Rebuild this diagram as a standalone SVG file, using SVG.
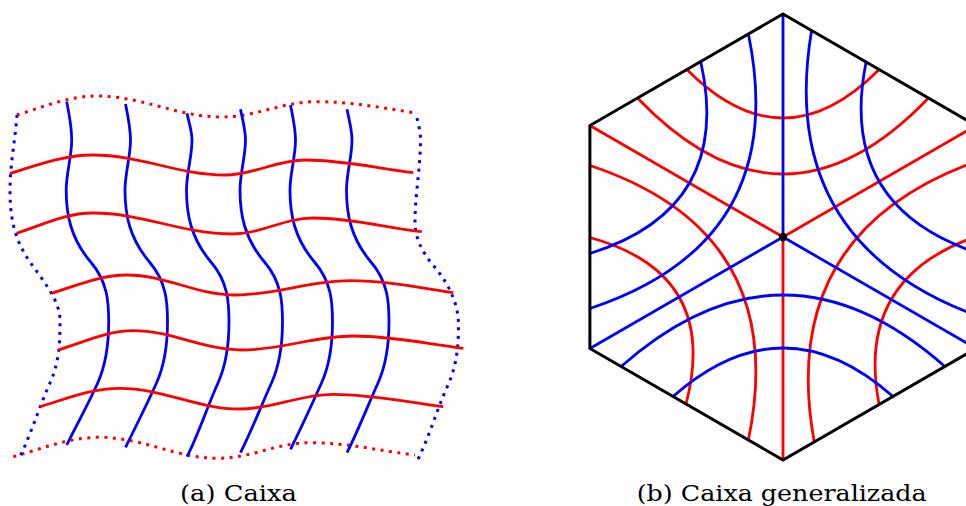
<svg xmlns="http://www.w3.org/2000/svg" width="966" height="506" viewBox="0 0 966 506">
<style>
  .r { fill: none; stroke: #ff0000; stroke-width: 2.8; }
  .b { fill: none; stroke: #0000ff; stroke-width: 2.8; }
  .dot { stroke-width: 3; stroke-dasharray: 3 5.5; }
  .k { fill: none; stroke: #000000; stroke-width: 3; stroke-linejoin: miter; }
  .cap { font-family: "DejaVu Serif", "Liberation Serif", serif; font-size: 23px; fill: #000000; text-anchor: middle; }
</style>

<g id="fig-a">
  <g id="a-boundary">
    <path id="a-top" class="r dot" d="M16.7,115 C43.5,107 68.1,96 97,96 C142,96 177,117 222,117 C256,117 282,101.7 316,101.7 C352.7,101.7 384,108.2 418,113.3"/>
    <path id="a-bottom" class="r dot" d="M13.3,456.7 C42.3,448.6 68.8,437.3 100,437.3 C142.5,437.3 175.5,458.3 218,458.3 C251,458.3 277,442.7 310,442.7 C348,442.7 380,451 415,455"/>
    <path id="a-left" class="b dot" d="M17,115 C15.2,140 10,165 10,190 C10,215 13.2,238 30,262 C43.5,281.3 60,300.7 60,320 C60,341 59.5,362 50,383 C38.4,408.7 31.2,434.3 18.3,460"/>
    <path id="a-right" class="b dot" d="M417,118 C418.8,125.3 420.5,132.7 420.5,140 C420.5,167.3 415,194.7 415,222 C415,236.3 420.8,250.7 433,265 C450,285 458.5,305 458.5,325 C458.5,345 457,365 448,385 C436.4,410.7 429.5,436.3 416.7,462"/>
  </g>
  <g id="a-blue">
    <path class="b" d="M66.7,101.7 C69.3,114.5 71.7,127.2 71.7,140 C71.7,156.7 66.2,173.3 66.2,190 C66.2,214 70.3,238 90.7,262 C107.7,282 108.7,302 108.7,322 C108.7,342.3 106.8,362.7 97.7,383 C88.4,403.7 77,424.3 66.7,445"/>
    <path class="b" d="M125.5,104 C127.9,116 130.5,128 130.5,140 C130.5,156.7 125,173.3 125,190 C125,214 129.1,238 149.5,262 C166.5,282 167.5,302 167.5,322 C167.5,342.3 165.6,362.7 156.5,383 C146.9,404.4 136.2,425.9 125.5,447.3"/>
    <path class="b" d="M187,113.3 C188.8,122.2 192,131.1 192,140 C192,156.7 186.5,173.3 186.5,190 C186.5,214 190.6,238 211,262 C228,282 229,302 229,322 C229,342.3 227.1,362.7 218,383 C206.9,407.6 199.3,432.1 187,456.7"/>
    <path class="b" d="M240.5,109.3 C242.5,119.5 245.5,129.8 245.5,140 C245.5,156.7 240,173.3 240,190 C240,214 244.1,238 264.5,262 C281.5,282 282.5,302 282.5,322 C282.5,342.3 280.6,362.7 271.5,383 C261,406.2 252.1,429.5 240.5,452.7"/>
    <path class="b" d="M290.5,105 C292.8,116.7 295.5,128.3 295.5,140 C295.5,156.7 290,173.3 290,190 C290,214 294.1,238 314.5,262 C331.5,282 332.5,302 332.5,322 C332.5,342.3 330.6,362.7 321.5,383 C311.6,405.1 301.5,427.2 290.5,449.3"/>
    <path class="b" d="M347,109.3 C349,119.5 352,129.8 352,140 C352,156.7 346.5,173.3 346.5,190 C346.5,214 350.6,238 371,262 C388,282 389,302 389,322 C389,342.3 387.1,362.7 378,383 C367.5,406.2 358.6,429.5 347,452.7"/>
  </g>
  <g id="a-red">
    <path class="r" d="M10,173.3 C37.7,165 63,155 93,155 C140.5,155 177.5,175 225,175 C254,175 276,160 305,160 C344,160 377.3,168.4 413.3,172.7"/>
    <path class="r" d="M16.7,233.3 C42.1,224.9 65.5,213 93,213 C143,213 182,234 232,234 C261,234 284,218 313,218 C352,218 385.7,227.7 421.7,231.7"/>
    <path class="r" d="M51.7,293.3 C76.7,285.5 100,275 127,275 C166,275 196,295 235,295 C276,295 309,280.7 350,280.7 C387,280.7 419.3,287.6 453.3,292.7"/>
    <path class="r" d="M58.3,350 C83.3,342.5 106.3,330.7 133.3,330.7 C172.3,330.7 203,350 242,350 C282,350 313.3,336 353.3,336 C393,336 426.3,343.8 463.3,348.3"/>
    <path class="r" d="M40,406.7 C66.7,398.7 91.2,388.3 120,388.3 C163,388.3 197,409 240,409 C273.5,409 299.5,394.3 333,394.3 C372.7,394.3 406.3,402.2 443.3,406.7"/>
  </g>
</g>

<g id="fig-b">
  <g id="b-red">
    <path class="r" d="M783,237 L589.9,125.5 M783,237 L783,460 M783,237 L976.1,125.5"/>
    <path class="r" d="M686.9,69.5 Q783,166.5 879.1,69.5"/>
    <path class="r" d="M637.5,98 Q783,250 928.5,98"/>
    <path class="r" d="M589.9,237.5 Q720.2,273.25 686,404"/>
    <path class="r" d="M589.9,165.5 Q791.2,232.25 748.4,440"/>
    <path class="r" d="M976.1,236.5 Q854.9,278.5 879.1,404.5"/>
    <path class="r" d="M976.1,161.5 Q776.5,233.25 814.2,442"/>
  </g>
  <g id="b-blue">
    <path class="b" d="M783,237 L783,14 M783,237 L589.9,348.5 M783,237 L976.1,348.5"/>
    <path class="b" d="M700.7,61.5 Q733.7,208.5 589.9,253.5"/>
    <path class="b" d="M748.4,34 Q791.2,241.75 589.9,308.5"/>
    <path class="b" d="M673,396.5 Q783,299.5 893,396.5"/>
    <path class="b" d="M621.1,366.5 Q783,223.5 944.9,366.5"/>
    <path class="b" d="M866.1,62 Q837.1,205.75 976.1,252.5"/>
    <path class="b" d="M811.6,30.5 Q776.1,241 976.1,315.5"/>
  </g>
  <g id="b-hexagon">
    <path class="k" d="M783,14 L976.1,125.5 L976.1,348.5 L783,460 L589.9,348.5 L589.9,125.5 Z"/>
    <circle id="b-center" cx="783" cy="237" r="4.2" fill="#000000"/>
  </g>
</g>

<g id="captions">
  <text class="cap" x="238.5" y="501" textLength="117" lengthAdjust="spacingAndGlyphs">(a) Caixa</text>
  <text class="cap" x="781.7" y="501" textLength="290" lengthAdjust="spacingAndGlyphs">(b) Caixa generalizada</text>
</g>
</svg>
